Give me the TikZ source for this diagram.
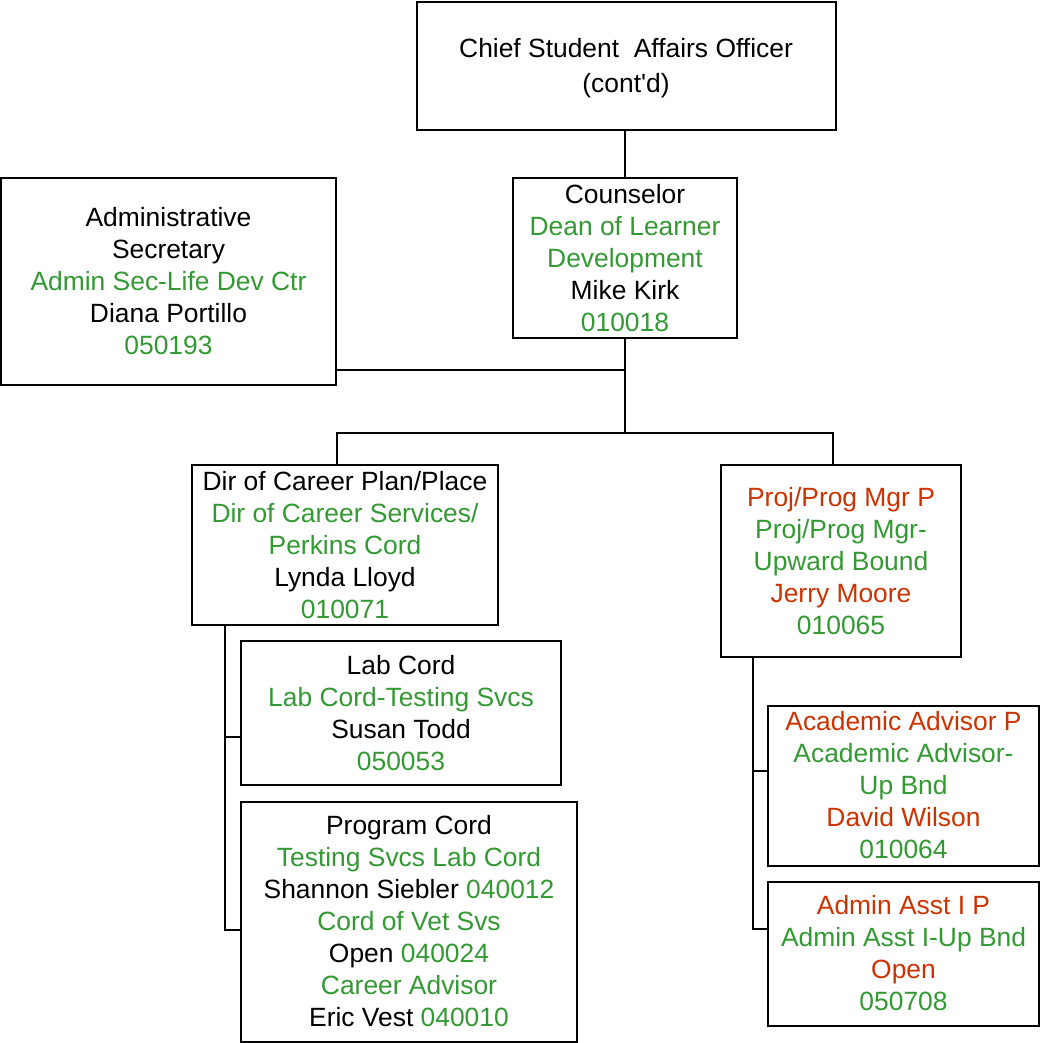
\documentclass[tikz,border=0pt]{standalone}
\usepackage{fontspec}
\setmainfont{Liberation Sans}
\newfontfamily\plainsans{Liberation Sans}
\definecolor{tgreen}{RGB}{51,153,51}
\definecolor{tred}{RGB}{204,51,0}
\begin{document}
\begin{tikzpicture}[x=1pt,y=-1pt,
  box/.style={draw, line width=2pt, inner sep=0pt, align=center, font=\fontsize{26.4}{32}\selectfont},
  txt/.style={inner sep=0pt, align=center, font=\fontsize{26.4}{35}\selectfont},
  wire/.style={line width=2pt}]
\useasboundingbox (0,0) rectangle (1041,1043);
\fill[white] (0,0) rectangle (1041,1043);
\newcommand{\G}[1]{\textcolor{tgreen}{#1}}
\newcommand{\R}[1]{\textcolor{tred}{#1}}

\node[box, minimum width=419pt, minimum height=128pt] (chief) at (626.5,66) {};
\node[txt] (chieftxt) at (626,68)
  {Chief Student\ \ Affairs Officer\\(cont{\plainsans\char"0027}d)};
\node[box, minimum width=224pt, minimum height=160pt] (couns) at (625,258)
  {Counselor\\\G{Dean of Learner}\\\G{Development}\\Mike Kirk\\\G{010018}};
\node[box, minimum width=335pt, minimum height=207pt] (admin) at (168.5,281.5)
  {Administrative\\Secretary\\\G{Admin Sec-Life Dev Ctr}\\Diana Portillo\\\G{050193}};
\node[box, minimum width=306pt, minimum height=160pt] (dir) at (345,545)
  {Dir of Career Plan/Place\\\G{Dir of Career Services/}\\\G{Perkins Cord}\\Lynda Lloyd\\\G{010071}};
\node[box, minimum width=240pt, minimum height=192pt] (proj) at (841,561)
  {\R{Proj/Prog Mgr P}\\\G{Proj/Prog Mgr-}\\\G{Upward Bound}\\\R{Jerry Moore}\\\G{010065}};
\node[box, minimum width=320pt, minimum height=144pt] (lab) at (401,713)
  {Lab Cord\\\G{Lab Cord-Testing Svcs}\\Susan Todd\\\G{050053}};
\node[box, minimum width=336pt, minimum height=240pt] (prog) at (409,921.5)
  {Program Cord\\\G{Testing Svcs Lab Cord}\\Shannon Siebler \G{040012}\\\G{Cord of Vet Svs}\\Open \G{040024}\\\G{Career Advisor}\\Eric Vest \G{040010}};
\node[box, minimum width=271pt, minimum height=160pt] (acad) at (903.5,785.5)
  {\R{Academic Advisor P}\\\G{Academic Advisor-}\\\G{Up Bnd}\\\R{David Wilson}\\\G{010064}};
\node[box, minimum width=271pt, minimum height=144pt] (asst) at (903.5,953.5)
  {\R{Admin Asst I P}\\\G{Admin Asst I-Up Bnd}\\\R{Open}\\\G{050708}};

\coordinate (j1) at (625,370);
\coordinate (bus) at (625,433);
\coordinate (bl) at (337,433);
\coordinate (br) at (833,433);
\coordinate (dv) at (225,737);
\coordinate (dv2) at (225,930);
\coordinate (pv) at (753,771);
\coordinate (pv2) at (753,929);

\draw[wire] (couns.north) -- (couns.north |- chief.south);
\draw[wire] (couns.south) -- (bus);
\draw[wire] (admin.east |- j1) -- (j1);
\draw[wire] (bl |- dir.north) -- (bl) -- (br) -- (br |- proj.north);
\draw[wire] (dv |- dir.south) -- (dv2) -- (prog.west |- dv2);
\draw[wire] (dv) -- (lab.west |- dv);
\draw[wire] (pv |- proj.south) -- (pv2) -- (asst.west |- pv2);
\draw[wire] (pv) -- (acad.west |- pv);
\end{tikzpicture}
\end{document}
